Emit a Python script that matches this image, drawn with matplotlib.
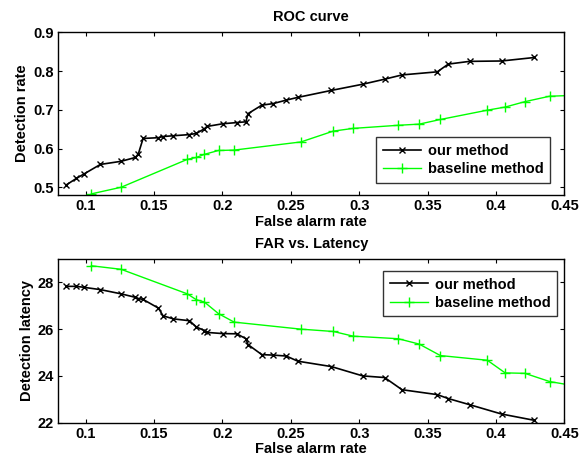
import matplotlib
matplotlib.use('Agg')
import matplotlib.pyplot as plt

plt.rcParams['font.family'] = ['Liberation Sans', 'DejaVu Sans']
plt.rcParams['font.weight'] = 'bold'
plt.rcParams['axes.labelweight'] = 'bold'
plt.rcParams['axes.titleweight'] = 'bold'
plt.rcParams['font.size'] = 10.5

# our method
our_far = [0.0858, 0.0933, 0.0986, 0.1108, 0.1259, 0.1364, 0.1385, 0.1420, 0.1532, 0.1566,
           0.1641, 0.1759, 0.1810, 0.1868, 0.1887, 0.2003, 0.2105, 0.2172, 0.2187, 0.2288,
           0.2371, 0.2467, 0.2551, 0.2796, 0.3026, 0.3186, 0.3313, 0.3571, 0.3652, 0.3807,
           0.4041, 0.4281]
our_dr = [0.506, 0.523, 0.534, 0.559, 0.567, 0.577, 0.586, 0.626, 0.628, 0.631,
          0.633, 0.636, 0.639, 0.651, 0.657, 0.664, 0.667, 0.669, 0.690, 0.712,
          0.716, 0.725, 0.732, 0.750, 0.766, 0.779, 0.790, 0.798, 0.818, 0.825,
          0.826, 0.835]
our_lat = [27.83, 27.83, 27.79, 27.69, 27.51, 27.36, 27.31, 27.27, 26.90, 26.57,
           26.44, 26.36, 26.09, 25.94, 25.86, 25.81, 25.80, 25.59, 25.34, 24.91,
           24.89, 24.85, 24.63, 24.40, 24.00, 23.93, 23.41, 23.20, 23.03, 22.77,
           22.37, 22.10]

# baseline method
base_far = [0.1042, 0.1259, 0.1743, 0.1809, 0.1868, 0.1972, 0.2086, 0.2574, 0.2811, 0.2956,
            0.3286, 0.3439, 0.3594, 0.3937, 0.4067, 0.4212, 0.4392, 0.4550]
base_dr = [0.483, 0.500, 0.572, 0.577, 0.585, 0.595, 0.596, 0.617, 0.645, 0.652,
           0.660, 0.663, 0.675, 0.699, 0.707, 0.721, 0.735, 0.737]
base_lat = [28.71, 28.56, 27.51, 27.26, 27.16, 26.66, 26.30, 26.00, 25.90, 25.70,
            25.59, 25.36, 24.87, 24.67, 24.13, 24.11, 23.76, 23.60]

xticks = [0.1, 0.15, 0.2, 0.25, 0.3, 0.35, 0.4, 0.45]
xticklabels = ['0.1', '0.15', '0.2', '0.25', '0.3', '0.35', '0.4', '0.45']

fig = plt.figure(figsize=(5.86, 4.63), dpi=100)
ax1 = fig.add_axes([0.0995, 0.5788, 0.8635, 0.3514])
ax2 = fig.add_axes([0.0995, 0.0871, 0.8635, 0.3535])

for ax in (ax1, ax2):
    ax.tick_params(direction='in', top=True, right=True, length=3, width=0.8, pad=3)
    for s in ax.spines.values():
        s.set_linewidth(1.0)
    ax.set_xlim(0.08, 0.45)
    ax.set_xticks(xticks)
    ax.set_xticklabels(xticklabels, fontweight='bold')

# ROC
ax1.plot(our_far, our_dr, color='black', marker='x', ms=5, mew=1.0, lw=1.2, label='our method')
ax1.plot(base_far, base_dr, color='#00ff00', marker='+', ms=7, mew=1.0, lw=1.0, label='baseline method')
ax1.set_ylim(0.48, 0.9)
ax1.set_yticks([0.5, 0.6, 0.7, 0.8, 0.9])
ax1.set_yticklabels(['0.5', '0.6', '0.7', '0.8', '0.9'], fontweight='bold')
ax1.set_xlabel('False alarm rate', labelpad=1)
ax1.set_ylabel('Detection rate', labelpad=3)
ax1.set_title('ROC curve', fontsize=10.5, pad=8)
leg1 = ax1.legend(loc='lower right', bbox_to_anchor=(0.972, 0.074), borderaxespad=0,
                  fancybox=False, edgecolor='black', prop={'weight': 'bold', 'size': 10.5},
                  handlelength=2.6, labelspacing=0.3, borderpad=0.45, handletextpad=0.5)
leg1.get_frame().set_linewidth(1.0)

# latency
ax2.plot(our_far, our_lat, color='black', marker='x', ms=5, mew=1.0, lw=1.2, label='our method')
ax2.plot(base_far, base_lat, color='#00ff00', marker='+', ms=7, mew=1.0, lw=1.0, label='baseline method')
ax2.set_ylim(22, 29)
ax2.set_yticks([22, 24, 26, 28])
ax2.set_yticklabels(['22', '24', '26', '28'], fontweight='bold')
ax2.set_xlabel('False alarm rate', labelpad=1)
ax2.set_ylabel('Detection latency', labelpad=3)
ax2.set_title('FAR vs. Latency', fontsize=10.5, pad=8)
leg2 = ax2.legend(loc='upper right', bbox_to_anchor=(0.986, 0.927), borderaxespad=0,
                  fancybox=False, edgecolor='black', prop={'weight': 'bold', 'size': 10.5},
                  handlelength=2.6, labelspacing=0.3, borderpad=0.45, handletextpad=0.5)
leg2.get_frame().set_linewidth(1.0)

fig.savefig('out.png', dpi=100)
